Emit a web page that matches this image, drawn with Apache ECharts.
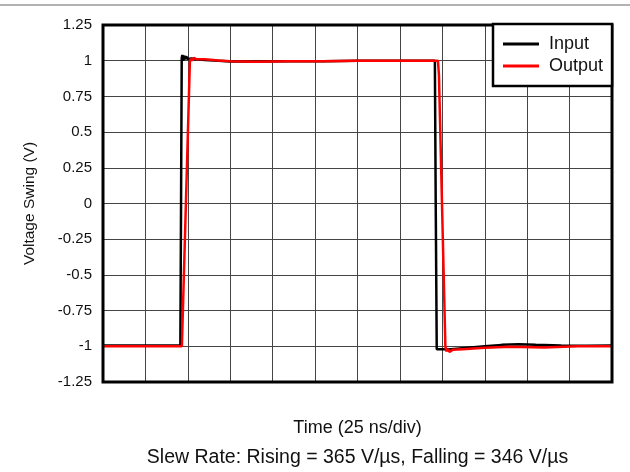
<!DOCTYPE html>
<html>
<head>
<meta charset="utf-8">
<script src="https://cdn.jsdelivr.net/npm/echarts@6/dist/echarts.min.js"></script>
<style>html,body{margin:0;padding:0;background:#fff;}#c{width:630px;height:472px;}</style>
</head>
<body>
<div id="c"></div>
<script>
// time in ns (25 ns/div, 12 divisions), voltage in V
var inputData = [
  [0,-0.995],[20,-0.995],[45.6,-0.995],[46.0,0.0],[46.4,1.02],[46.8,1.04],[47.3,1.0],[47.8,1.035],[48.4,1.01],[49,1.03],[50,1.012],[52,1.015],[55,1.01],[60,1.005],[68,1.0],[75,0.995],[90,0.994],[110,0.997],[130,0.997],[150,0.999],[170,1.0],[190,1.0],[195.6,1.0],[196.1,0.0],[196.7,-1.02],[205,-1.02],[215,-1.01],[225,-1.0],[235,-0.99],[245,-0.986],[255,-0.99],[270,-0.995],[285,-0.996],[300,-0.995]
];
var outputData = [
  [0,-1.0],[20,-1.0],[46.5,-1.0],[47.2,-0.99],[51.2,0.99],[51.7,1.015],[52.5,1.0],[53.5,1.02],[55,1.01],[60,1.01],[68,1.002],[75,0.996],[90,0.993],[110,0.997],[130,0.996],[150,0.999],[170,1.0],[190,1.0],[197.4,1.0],[198,0.9],[201.8,-1.0],[202.3,-1.035],[203.3,-1.02],[204.2,-1.04],[206,-1.025],[212,-1.02],[225,-1.01],[240,-1.004],[260,-1.008],[280,-1.0],[300,-1.0]
];
var seriesNames = ['Input', 'Output'];
var xTitle = 'Time (25 ns/div)';
var yTitle = 'Voltage Swing (V)';
var noteText = 'Slew Rate: Rising = 365 V/\u00b5s, Falling = 346 V/\u00b5s';

var chart = echarts.init(document.getElementById('c'));
var font = 'Liberation Sans, Arial, sans-serif';
chart.setOption({
  animation: false,
  grid: {left: 103, right: 18, top: 25, bottom: 90, show: true, borderColor: '#000', borderWidth: 3, backgroundColor: 'transparent', z: 5},
  xAxis: {
    type: 'value', min: 0, max: 300, interval: 25,
    name: xTitle, nameLocation: 'middle', nameGap: 37,
    nameTextStyle: {fontFamily: font, fontSize: 18, color: '#111'},
    axisLine: {show: false}, axisTick: {show: false}, axisLabel: {show: false},
    splitLine: {show: true, lineStyle: {color: '#444', width: 1}}
  },
  yAxis: {
    type: 'value', min: -1.25, max: 1.25, interval: 0.25,
    name: yTitle, nameLocation: 'middle', nameGap: 65, nameRotate: 90,
    nameTextStyle: {fontFamily: font, fontSize: 15.5, color: '#111'},
    axisLine: {show: false}, axisTick: {show: false},
    axisLabel: {fontFamily: font, fontSize: 15, color: '#111', margin: 11},
    splitLine: {show: true, lineStyle: {color: '#444', width: 1}}
  },
  legend: {
    left: 493, top: 24, orient: 'vertical',
    backgroundColor: '#fff', borderColor: '#000', borderWidth: 2.5,
    padding: [11, 9, 11, 10], itemGap: 4, itemWidth: 36, itemHeight: 3,
    icon: 'rect',
    textStyle: {fontFamily: font, fontSize: 18, lineHeight: 18, color: '#111', padding: [0, 0, 0, 5]},
    data: seriesNames, z: 10
  },
  series: [
    {name: seriesNames[0], type: 'line', data: inputData, symbol: 'none', color: '#000', lineStyle: {color: '#000', width: 2.5}, z: 3},
    {name: seriesNames[1], type: 'line', data: outputData, symbol: 'none', color: '#ff0000', lineStyle: {color: '#ff0000', width: 2.5}, z: 4}
  ],
  graphic: [
    {type: 'line', shape: {x1: 0, y1: 5, x2: 630, y2: 5}, style: {stroke: '#999', lineWidth: 1.5}},
    {type: 'text', x: 357.5, y: 458, style: {text: noteText, fontFamily: font, fontSize: 19.5, fill: '#111', textAlign: 'center', textVerticalAlign: 'middle'}}
  ]
});
</script>
</body>
</html>
